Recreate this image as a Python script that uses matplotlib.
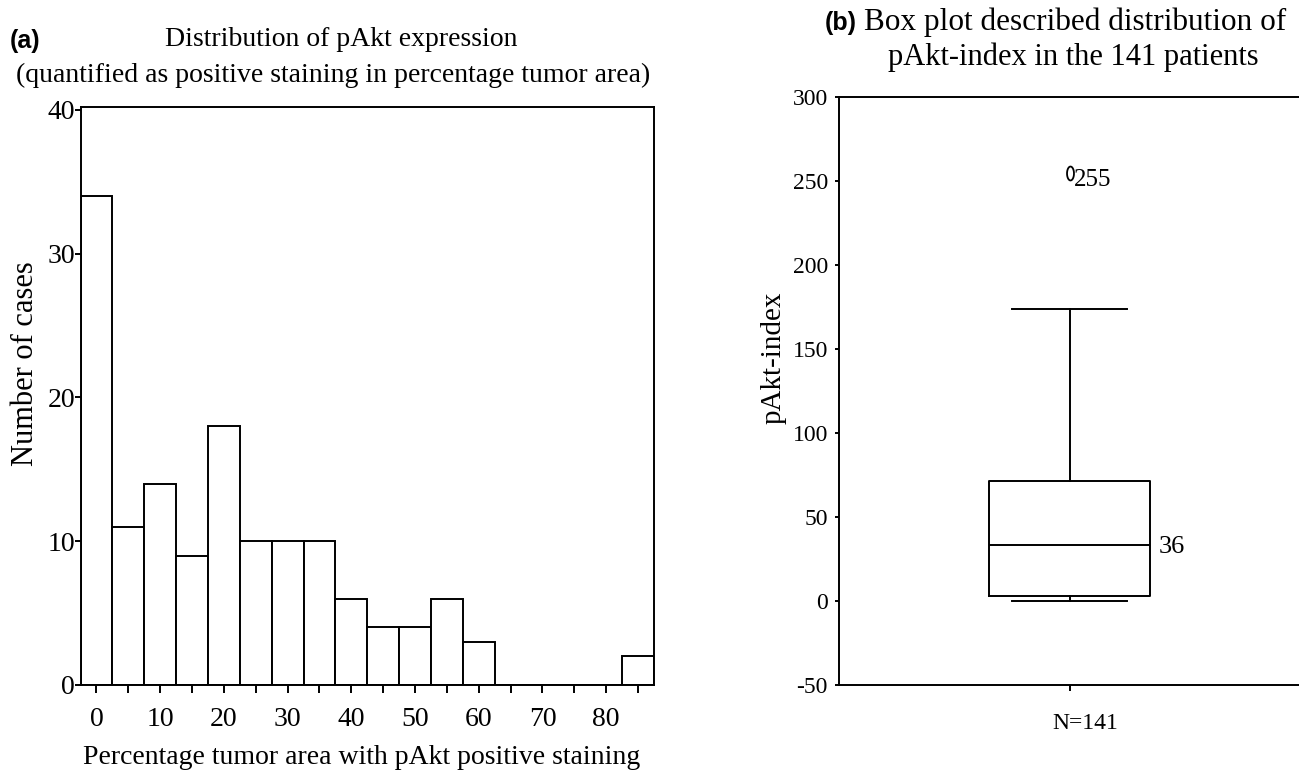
import numpy as np
import matplotlib
matplotlib.use("Agg")
import matplotlib.pyplot as plt
from matplotlib.path import Path
from matplotlib.ticker import MultipleLocator
from matplotlib.transforms import ScaledTranslation

plt.rcParams["font.family"] = ["Liberation Serif", "DejaVu Serif"]
plt.rcParams["axes.unicode_minus"] = False

# (a) histogram of % tumour area with pAkt staining, bins 5 wide centred on these values
bin_centers = [0, 5, 10, 15, 20, 25, 30, 35, 40, 45, 50, 55, 60, 65, 70, 75, 80, 85]
counts = [34, 11, 14, 9, 18, 10, 10, 10, 6, 4, 4, 6, 3, 0, 0, 0, 0, 2]
bin_width = 5

# (b) box plot of pAkt-index, n = 141
box_q1 = 3
box_median = 33.5
box_q3 = 71.5
whisker_low = 0
whisker_high = 174
outliers = [255]
median_label = "36"
n_label = "N=141"

W, H = 1299, 771
fig = plt.figure(figsize=(W / 100, H / 100), dpi=100)


def fx(px):
    return px / W


def fy(py):
    return 1 - py / H


lw = 1.4

# ---- panel (a)
ax1 = fig.add_axes([fx(80.5), fy(685), fx(654) - fx(80.5), fy(107) - fy(685)])
ax1.bar(bin_centers, counts, width=bin_width, color="white",
        edgecolor="black", linewidth=lw, align="center", zorder=2)
ax1.set_xlim(bin_centers[0] - bin_width / 2, bin_centers[-1] + bin_width / 2)
ax1.set_ylim(0, 40.2)
ax1.set_yticks([0, 10, 20, 30, 40])
ax1.set_xticks([0, 10, 20, 30, 40, 50, 60, 70, 80])
ax1.xaxis.set_minor_locator(MultipleLocator(5))
for s in ax1.spines.values():
    s.set_linewidth(lw)
ax1.tick_params(axis="x", which="both", direction="out", length=6, width=lw,
                labelsize=20, pad=10)
ax1.tick_params(axis="y", direction="out", length=4, width=lw,
                labelsize=20, pad=0)
ax1.set_xlabel("Percentage tumor area with pAkt positive staining",
               fontsize=20, labelpad=8)
ax1.xaxis.set_label_coords(0.49, -0.104)
fig.text(fx(26), fy(364), "Number of cases", fontsize=22, rotation=90,
         ha="center", va="center")

fig.text(fx(10), fy(41), "(a)", family="Liberation Sans", weight="bold",
         fontsize=18, ha="left", va="center")
fig.text(fx(341), fy(40), "Distribution of pAkt expression",
         fontsize=20, ha="center", va="center")
fig.text(fx(333), fy(75), "(quantified as positive staining in percentage tumor area)",
         fontsize=20, ha="center", va="center")

# ---- panel (b)
ax2 = fig.add_axes([fx(839), fy(685), fx(1300) - fx(839), fy(97) - fy(685)])
stats = [{"med": box_median, "q1": box_q1, "q3": box_q3,
          "whislo": whisker_low, "whishi": whisker_high, "fliers": outliers}]

t = np.linspace(0, 2 * np.pi, 60)
ellipse = Path(np.column_stack([0.5 * np.cos(t), np.sin(t)]), closed=True)
line_style = dict(color="black", linewidth=lw)
ax2.bxp(stats, positions=[1], widths=0.70, capwidths=0.495,
        boxprops=line_style, whiskerprops=line_style, capprops=line_style,
        medianprops=line_style,
        flierprops=dict(marker=ellipse, markersize=10, markerfacecolor="none",
                        markeredgecolor="black", markeredgewidth=1.3))
ax2.set_xlim(0, 2)
ax2.set_ylim(-50, 300)
ax2.set_yticks(np.arange(-50, 301, 50))
ax2.set_xticks([1])
ax2.set_xticklabels([n_label])
ax2.spines["right"].set_visible(False)
for s in ax2.spines.values():
    s.set_linewidth(lw)
ax2.tick_params(axis="x", direction="out", length=4, width=lw, labelsize=17, pad=16)
ax2.tick_params(axis="y", direction="out", length=3, width=lw, labelsize=17, pad=5)
# N label sits a little right of its tick in the original
for lab in ax2.get_xticklabels():
    lab.set_transform(lab.get_transform() + ScaledTranslation(0.16, 0, fig.dpi_scale_trans))
fig.text(fx(774), fy(358), "pAkt-index", fontsize=21, rotation=90,
         ha="center", va="center")

ax2.annotate(median_label, xy=(1 + 0.35, box_median), xytext=(6, -2),
             textcoords="offset points", fontsize=19, ha="left", va="center")
ax2.annotate(str(outliers[0]), xy=(1, outliers[0]), xytext=(3, -5),
             textcoords="offset points", fontsize=18, ha="left", va="center")

fig.text(fx(825), fy(23), "(b)", family="Liberation Sans", weight="bold",
         fontsize=18, ha="left", va="center")
fig.text(fx(1075), fy(22), "Box plot described distribution of",
         fontsize=22.5, ha="center", va="center")
fig.text(fx(1073), fy(57), "pAkt-index in the 141 patients",
         fontsize=22, ha="center", va="center")

fig.savefig("out.png", dpi=100)
